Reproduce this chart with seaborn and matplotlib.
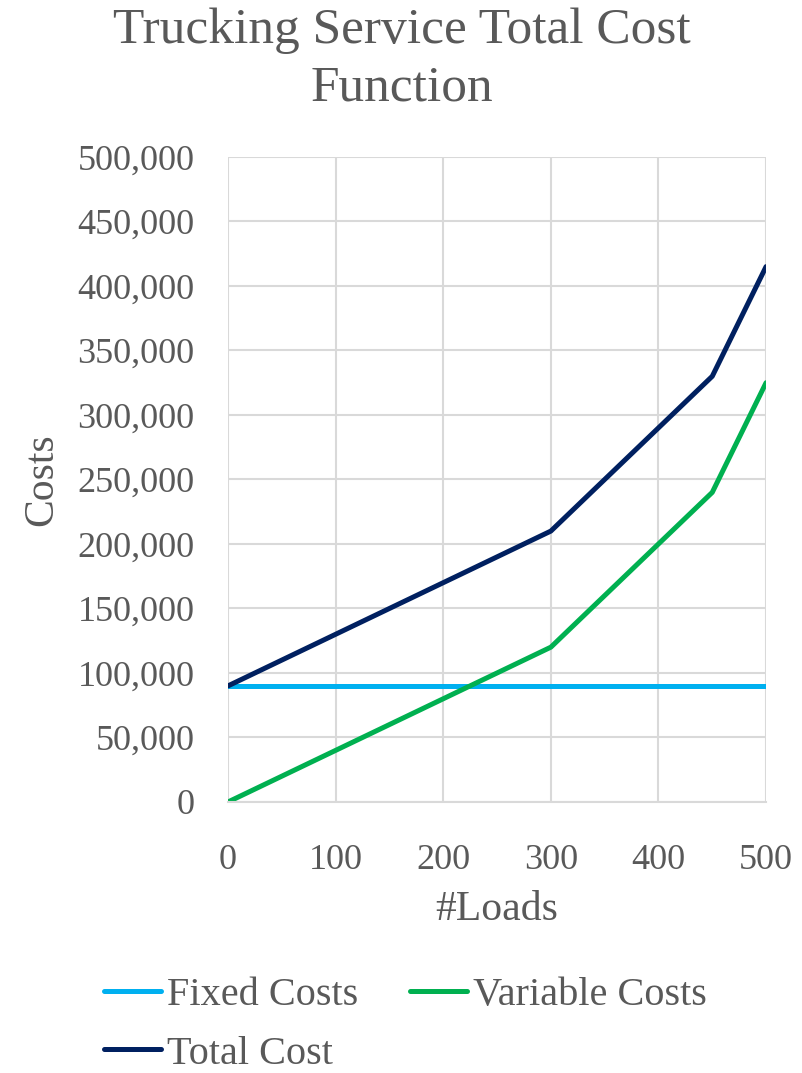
import pandas as pd
import seaborn as sns
import matplotlib.pyplot as plt
from matplotlib.ticker import FuncFormatter

# data
loads = [0, 100, 200, 300, 400, 450, 500]
fixed_costs = [90000, 90000, 90000, 90000, 90000, 90000, 90000]
variable_costs = [0, 40000, 80000, 120000, 200000, 240000, 325000]
total_cost = [90000, 130000, 170000, 210000, 290000, 330000, 415000]

series_names = ["Fixed Costs", "Variable Costs", "Total Cost"]
series_colors = ["#00B0F0", "#00B050", "#002060"]

df = pd.DataFrame({
    "#Loads": loads * 3,
    "Costs": fixed_costs + variable_costs + total_cost,
    "series": [series_names[0]] * len(loads) + [series_names[1]] * len(loads) + [series_names[2]] * len(loads),
})

sns.set_theme(style="whitegrid")
plt.rcParams["font.family"] = ["Liberation Serif", "DejaVu Serif"]
text_gray = "#595959"

fig = plt.figure(figsize=(8.03, 10.73), dpi=100)
ax = fig.add_axes([0.284, 0.2526, 0.67, 0.6011])

sns.lineplot(data=df, x="#Loads", y="Costs", hue="series", hue_order=series_names,
             palette=series_colors, linewidth=3.6, ax=ax, legend=True)

ax.set_xlim(0, 500)
ax.set_ylim(0, 500000)
ax.set_xticks([0, 100, 200, 300, 400, 500])
ax.set_yticks(range(0, 500001, 50000))
ax.yaxis.set_major_formatter(FuncFormatter(lambda v, p: f"{v:,.0f}"))
ax.grid(True, color="#D9D9D9", linewidth=1.5)
for side in ["left", "right", "top"]:
    ax.spines[side].set_visible(False)
ax.spines["bottom"].set_color("#D9D9D9")
ax.spines["bottom"].set_linewidth(1.5)
ax.tick_params(axis="y", labelsize=26, colors=text_gray, pad=24, length=0)
ax.tick_params(axis="x", labelsize=26, colors=text_gray, pad=30, length=0)
ax.set_xlabel("#Loads", fontsize=30, color=text_gray, labelpad=10)
ax.set_ylabel("Costs", fontsize=30, color=text_gray, labelpad=12)

fig.text(0.5, 1 - 8 / 1073, "Trucking Service Total Cost\nFunction", ha="center", va="top",
         fontsize=37, color=text_gray, linespacing=1.3)

# legend laid out row-wise: Fixed, Variable / Total
handles, labels = ax.get_legend_handles_labels()
ax.get_legend().remove()
order = [0, 2, 1]
fig.legend([handles[i] for i in order], [labels[i] for i in order], ncol=2,
           loc="upper left", bbox_to_anchor=(0.105, 0.108), frameon=False,
           fontsize=29, labelcolor=text_gray, handlelength=1.4, handletextpad=0.15,
           columnspacing=1.3, borderpad=0, labelspacing=0.52)

plt.savefig("out.png", dpi=100)
